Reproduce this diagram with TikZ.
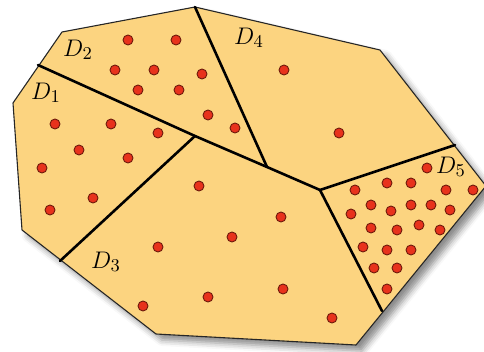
\documentclass[tikz,border=0pt]{standalone}
\usepackage{amsmath,amssymb}
\usepackage{tikz}
\usetikzlibrary{shadows.blur}
\definecolor{regfill}{HTML}{FCD480}
\definecolor{ptred}{HTML}{E8321C}
\definecolor{ptedge}{HTML}{6E1A0C}
\tikzset{
  regbound/.style={draw=black!85,line width=0.55pt,fill=regfill,line join=round,
    blur shadow={shadow xshift=3pt,shadow yshift=-3pt,shadow blur radius=3pt,shadow opacity=45}},
  cutline/.style={black,line width=1.3pt,line cap=round},
  ptnode/.style={circle,draw=ptedge,fill=ptred,line width=0.45pt,minimum size=5pt,inner sep=0pt},
  reglabel/.style={inner sep=0pt,font=\fontsize{12.5}{14}\selectfont},
}

\begin{document}
\begin{tikzpicture}[x=0.5pt,y=-0.5pt]
  \useasboundingbox (0,0) rectangle (484,352);
  % outline corners
  \coordinate (vA) at (62,32);
  \coordinate (vB) at (195,7);
  \coordinate (vC) at (380,50);
  \coordinate (vD) at (486,186);
  \coordinate (vE) at (356,345);
  \coordinate (vF) at (156,334);
  \coordinate (vG) at (22,230);
  \coordinate (vH) at (13,103);
  % points where the cuts meet
  \coordinate (eL) at (38,65);
  \coordinate (eLow) at (60,261);
  \coordinate (eR) at (455,145);
  \coordinate (eBot) at (382,311);
  \coordinate (jA) at (195,136);
  \coordinate (jB) at (267,167);
  \coordinate (jC) at (320,190);
  \path[regbound] (vA) -- (vB) -- (vC) -- (vD) -- (vE) -- (vF) -- (vG) -- (vH) -- cycle;
  \draw[cutline] (eL) -- (jA) -- (jB) -- (jC);
  \draw[cutline] (vB) -- (jB);
  \draw[cutline] (jA) -- (eLow);
  \draw[cutline] (jC) -- (eR);
  \draw[cutline] (jC) -- (eBot);
  % labels
  \node[reglabel] (lD1) at (46,93) {$D_1$};
  \node[reglabel] (lD2) at (78,50) {$D_2$};
  \node[reglabel] (lD3) at (106,262) {$D_3$};
  \node[reglabel] (lD4) at (249,38) {$D_4$};
  \node[reglabel] (lD5) at (451,167) {$D_5$};
  % points of D1
  \node[ptnode] (pa1) at (55,124) {};
  \node[ptnode] (pa2) at (111,124) {};
  \node[ptnode] (pa3) at (158,133) {};
  \node[ptnode] (pa4) at (79,150) {};
  \node[ptnode] (pa5) at (128,158) {};
  \node[ptnode] (pa6) at (42,168) {};
  \node[ptnode] (pa7) at (93,198) {};
  \node[ptnode] (pa8) at (50,210) {};
  % points of D2
  \node[ptnode] (pb1) at (128,40) {};
  \node[ptnode] (pb2) at (176,40) {};
  \node[ptnode] (pb3) at (115,70) {};
  \node[ptnode] (pb4) at (154,70) {};
  \node[ptnode] (pb5) at (202,74) {};
  \node[ptnode] (pb6) at (138,90) {};
  \node[ptnode] (pb7) at (179,90) {};
  \node[ptnode] (pb8) at (208,115) {};
  \node[ptnode] (pb9) at (235,128) {};
  % points of D3
  \node[ptnode] (pc1) at (199,186) {};
  \node[ptnode] (pc2) at (281,217) {};
  \node[ptnode] (pc3) at (232,237) {};
  \node[ptnode] (pc4) at (158,247) {};
  \node[ptnode] (pc5) at (283,289) {};
  \node[ptnode] (pc6) at (208,297) {};
  \node[ptnode] (pc7) at (143,306) {};
  \node[ptnode] (pc8) at (332,318) {};
  % points of D4
  \node[ptnode] (pd1) at (284,70) {};
  \node[ptnode] (pd2) at (339,133) {};
  % points of D5
  \node[ptnode] (pe1) at (427,168) {};
  \node[ptnode] (pe2) at (387,183) {};
  \node[ptnode] (pe3) at (411,183) {};
  \node[ptnode] (pe4) at (355,190) {};
  \node[ptnode] (pe5) at (446,190) {};
  \node[ptnode] (pe6) at (473,190) {};
  \node[ptnode] (pe7) at (371,205) {};
  \node[ptnode] (pe8) at (411,205) {};
  \node[ptnode] (pe9) at (431,205) {};
  \node[ptnode] (pe10) at (450,210) {};
  \node[ptnode] (pe11) at (391,211) {};
  \node[ptnode] (pe12) at (351,214) {};
  \node[ptnode] (pe13) at (419,225) {};
  \node[ptnode] (pe14) at (371,228) {};
  \node[ptnode] (pe15) at (397,230) {};
  \node[ptnode] (pe16) at (440,230) {};
  \node[ptnode] (pe17) at (363,247) {};
  \node[ptnode] (pe18) at (387,250) {};
  \node[ptnode] (pe19) at (411,250) {};
  \node[ptnode] (pe20) at (374,268) {};
  \node[ptnode] (pe21) at (397,268) {};
  \node[ptnode] (pe22) at (387,289) {};
\end{tikzpicture}
\end{document}
